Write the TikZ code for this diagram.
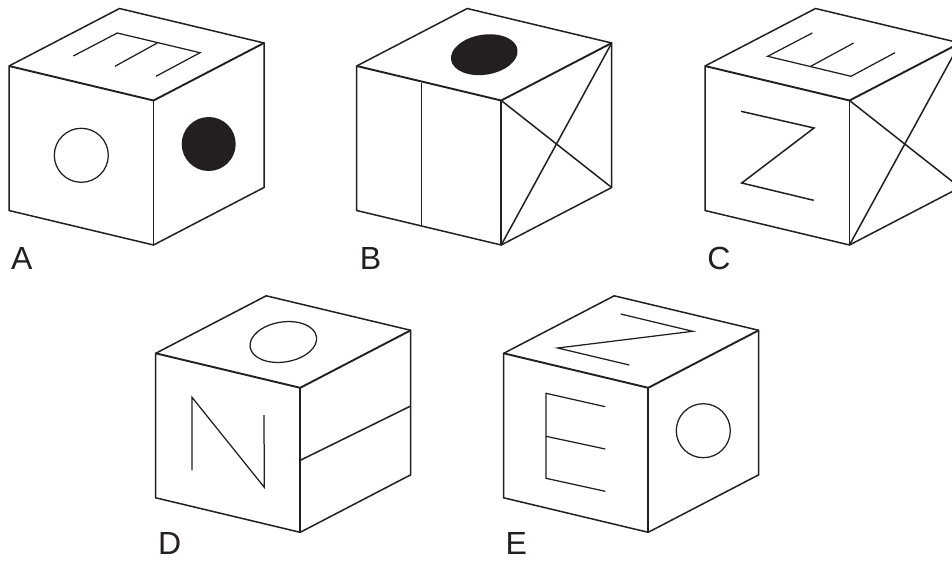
\documentclass[tikz,border=0pt]{standalone}
\usepackage{fontspec}
\setmainfont{Liberation Sans}
\definecolor{ink}{HTML}{231F20}
\tikzset{
  thinline/.style={draw=ink,line width=1.25pt,line join=miter},
  edgeline/.style={draw=ink,line width=1.5pt,line join=miter},
  frontline/.style={draw=ink,line width=1.9pt,line join=miter},
  blob/.style={fill=ink,draw=none},
  letterlabel/.style={text=ink,font=\fontsize{32}{32}\selectfont,anchor=base,inner sep=0pt},
}
\newcommand{\cubeframe}{%
  \draw[edgeline] (9,66) -- (119.5,8.5) -- (264,43) -- (264,187.5) -- (153.5,245) -- (9,210.5) -- cycle;
  \draw[frontline] (9,66) -- (153.5,100.5) -- (264,43);
  \draw[frontline] (153.5,100.5) -- (153.5,245);
}
\newcommand{\crossface}{%
  \draw[edgeline] (153.5,100.5) -- (264,187.5);
  \draw[edgeline] (153.5,245) -- (264,43);
}
\begin{document}
\begin{tikzpicture}[x=1pt,y=-1pt]
\useasboundingbox (0,0) rectangle (952,560);
\fill[white] (0,0) rectangle (952,560);
\clip (0,0) rectangle (952,560);
% A
\begin{scope}
  \cubeframe
  \draw[thinline] (73.3,56) -- (117.3,33) -- (200,52.7) -- (156,76.3);
  \draw[thinline] (115,66.3) -- (157.3,43);
  \draw[thinline] (81.3,155.3) circle [radius=27pt];
  \fill[blob] (208.7,144) circle [radius=27pt];
  \node[letterlabel] (labelA) at (21.7,269.3) {A};
\end{scope}
% B
\begin{scope}[shift={(347.7,0)}]
  \cubeframe
  \crossface
  \draw[thinline] (74,82.5) -- (74,226);
  \fill[blob] (136.6,54.7) ellipse [x radius=33.6pt,y radius=20pt,rotate=9];
  \node[letterlabel] (labelB) at (22.8,269.3) {B};
\end{scope}
% C
\begin{scope}[shift={(696,0)}]
  \cubeframe
  \crossface
  \draw[thinline] (116.3,33) -- (71.7,56.3) -- (155,76.3) -- (199,52.7);
  \draw[thinline] (114.7,66.3) -- (157.7,43);
  \draw[edgeline] (45,111.3) -- (118,128) -- (45.7,183) -- (117.7,200.3);
  \node[letterlabel] (labelC) at (22.8,269.3) {C};
\end{scope}
% D
\begin{scope}[shift={(146.7,287.3)}]
  \cubeframe
  \draw[thinline] (136.6,54.7) ellipse [x radius=33.6pt,y radius=20pt,rotate=9];
  \draw[thinline] (45.3,183) -- (45.3,110) -- (117.6,200) -- (117.3,127.7);
  \draw[edgeline] (153.5,173) -- (264,118.7);
  \node[letterlabel] (labelD) at (23,267) {D};
\end{scope}
% E
\begin{scope}[shift={(494.7,287.3)}]
  \cubeframe
  \draw[thinline] (126,26.7) -- (198,44) -- (63,60.7) -- (134.6,77.7);
  \draw[thinline] (110.6,119.4) -- (51.3,106) -- (51.3,191) -- (110.6,204);
  \draw[thinline] (51.3,149) -- (110.6,161.7);
  \draw[thinline] (208.6,143.4) circle [radius=27pt];
  \node[letterlabel] (labelE) at (21.5,267) {E};
\end{scope}
\end{tikzpicture}
\end{document}
